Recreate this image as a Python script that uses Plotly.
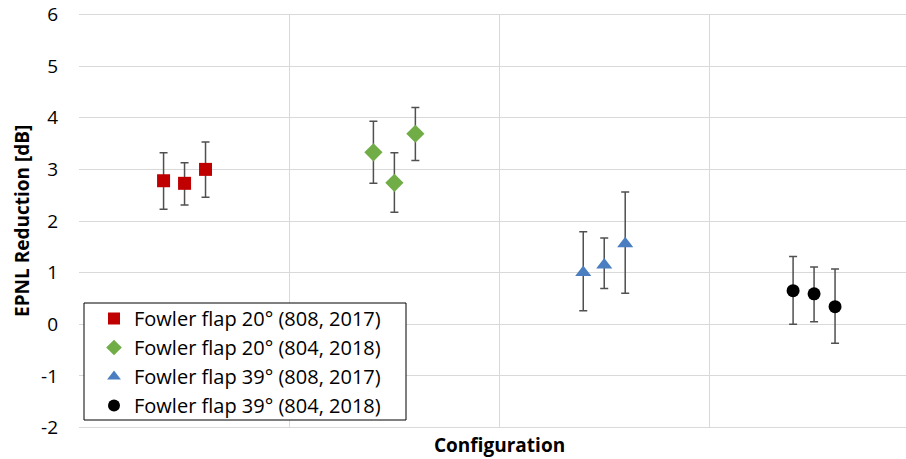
import plotly.graph_objects as go

# Data
series_names = [
    "Fowler flap 20° (808, 2017)",
    "Fowler flap 20° (804, 2018)",
    "Fowler flap 39° (808, 2017)",
    "Fowler flap 39° (804, 2018)",
]
category_index = [1, 2, 3, 4]
point_offsets = [-0.1, 0.0, 0.1]

red_vals = [2.78, 2.73, 3.00]
red_hi = [3.32, 3.13, 3.53]
red_lo = [2.23, 2.31, 2.46]

green_vals = [3.33, 2.74, 3.69]
green_hi = [3.93, 3.32, 4.20]
green_lo = [2.73, 2.17, 3.17]

blue_vals = [1.00, 1.15, 1.56]
blue_hi = [1.79, 1.67, 2.56]
blue_lo = [0.26, 0.69, 0.60]

black_vals = [0.65, 0.59, 0.34]
black_hi = [1.31, 1.11, 1.07]
black_lo = [0.00, 0.05, -0.37]

y_ticks = [-2, -1, 0, 1, 2, 3, 4, 5, 6]
y_tick_text = ["-2", "-1", "0", "1", "2", "3", "4", "5", "6"]

vals = [red_vals, green_vals, blue_vals, black_vals]
his = [red_hi, green_hi, blue_hi, black_hi]
los = [red_lo, green_lo, blue_lo, black_lo]
colors = ["#C00000", "#70AD47", "#4A7EC0", "#000000"]
symbols = ["square", "diamond", "triangle-up", "circle"]
sizes = [13, 14, 14, 13]

FONT = "Open Sans"
GRID = "#D9D9D9"
fig = go.Figure()
for i in range(4):
    xs = [category_index[i] - 0.5 + o for o in point_offsets]
    v = vals[i]
    fig.add_trace(go.Scatter(
        x=xs, y=v, mode="markers", name=series_names[i],
        legendgroup=f"g{i}",
        marker=dict(symbol=symbols[i], size=sizes[i], color=colors[i],
                    line=dict(width=0)),
        error_y=dict(type="data", symmetric=False,
                     array=[h - a for h, a in zip(his[i], v)],
                     arrayminus=[a - l for a, l in zip(v, los[i])],
                     color="#505050", thickness=1.5, width=4),
    ))

W, H = 906, 459
plot_left, plot_top, plot_bottom = 79, 14, 428
cat_px = 210
x_max = (W - plot_left) / cat_px
pw, ph = W - plot_left, plot_bottom - plot_top

def px(fx):
    return (fx - plot_left) / pw

def py(fy):
    return (plot_bottom - fy) / ph

fig.update_layout(
    width=W, height=H,
    margin=dict(l=plot_left, r=0, t=plot_top, b=H - plot_bottom, autoexpand=False),
    paper_bgcolor="white", plot_bgcolor="white",
    font=dict(family=FONT, size=20, color="#000000"),
    showlegend=True,
    legend=dict(x=px(94), y=py(299), xanchor="left", yanchor="top",
                bgcolor="rgba(0,0,0,0)", borderwidth=0,
                font=dict(family=FONT, size=20, color="#000000"),
                traceorder="grouped", tracegroupgap=0,
                itemsizing="constant"),
    xaxis=dict(range=[-0.003, x_max], tickvals=[0, 1, 2, 3, 4], showticklabels=False,
               showgrid=True, gridcolor=GRID, gridwidth=1,
               zeroline=False, showline=False, ticks="", automargin=False),
    yaxis=dict(range=[-2.01, 6.01], tickvals=y_ticks, ticktext=y_tick_text,
               showgrid=True, automargin=False, ticklabeloverflow="allow",
               gridcolor=GRID, gridwidth=1, zeroline=False,
               showline=False, ticks="", ticklabelstandoff=20,
               tickfont=dict(family=FONT, size=19, color="#000000")),
)

# Edge gridlines (top and bottom of the value range)
for yv in (y_ticks[0], y_ticks[-1]):
    fig.add_shape(type="line", xref="paper", yref="y", layer="below",
                  x0=0, x1=1, y0=yv, y1=yv, line=dict(color=GRID, width=1))

fig.add_shape(type="rect", xref="paper", yref="paper", layer="above",
              x0=px(84), x1=px(406), y0=py(420), y1=py(303),
              fillcolor="white", line=dict(color="#000000", width=1))

fig.add_annotation(x=2, y=0, xref="x", yref="paper", yanchor="top",
                   yshift=-2, text="<b>Configuration</b>", showarrow=False,
                   font=dict(family=FONT, size=19, color="#000000"))
fig.add_annotation(x=0, y=0.5, xref="paper", yref="paper", xanchor="center",
                   xshift=-57, text="<b>EPNL Reduction [dB]</b>", showarrow=False,
                   textangle=-90,
                   font=dict(family=FONT, size=19, color="#000000"))

fig.write_html("out.html", config={"displayModeBar": False},
               post_script="document.body.style.margin='0';document.body.style.overflow='hidden';")
